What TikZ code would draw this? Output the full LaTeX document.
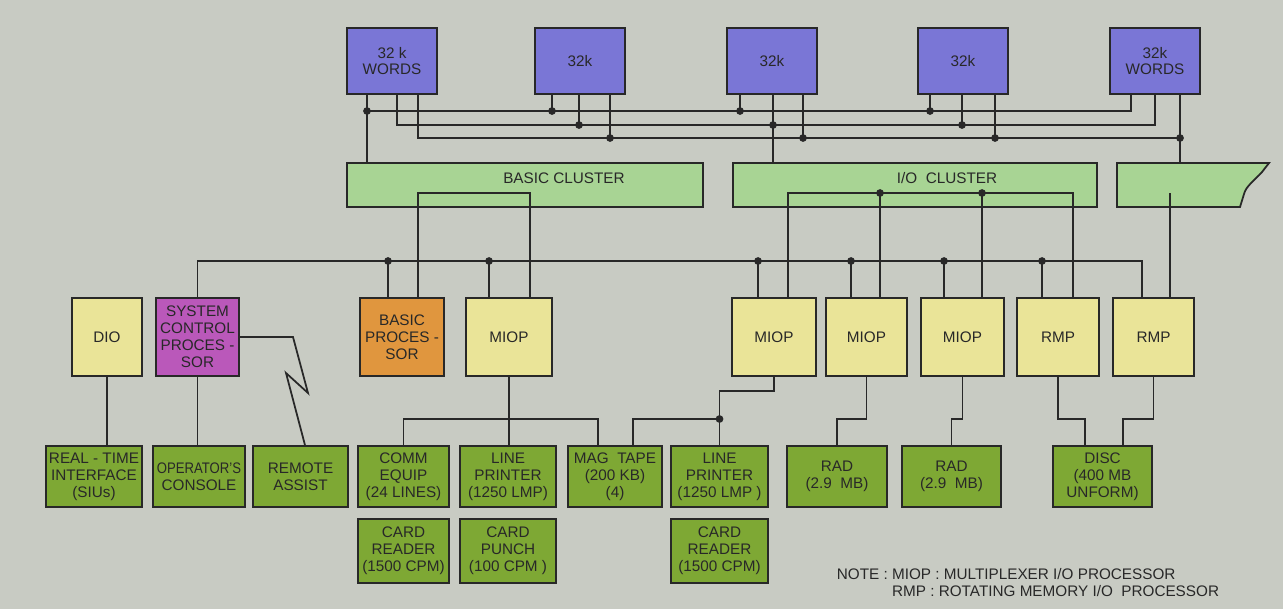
\documentclass[tikz,border=0pt]{standalone}
\usepackage{fontspec}
\setmainfont{Liberation Sans}
\usepackage{graphicx}
\definecolor{bgc}{RGB}{200,203,195}
\definecolor{linec}{RGB}{40,40,40}
\definecolor{memc}{RGB}{122,118,214}
\definecolor{clusc}{RGB}{168,212,148}
\definecolor{procc}{RGB}{234,228,152}
\definecolor{scpc}{RGB}{186,88,186}
\definecolor{bprocc}{RGB}{224,150,62}
\definecolor{devc}{RGB}{126,168,52}
\begin{document}
\begin{tikzpicture}[x=0.02cm, y=-0.02cm, color=linec, line width=1pt,
    font=\fontsize{8.7}{9.6}\selectfont,
    mem/.style={draw, fill=memc, minimum width=1.8cm, minimum height=1.32cm, align=center, inner sep=1pt},
    clus/.style={draw, fill=clusc, minimum height=0.88cm},
    proc/.style={draw, fill=procc, minimum width=1.66cm, minimum height=1.56cm, align=center, inner sep=1pt},
    dev/.style={draw, fill=devc, minimum width=1.9cm, minimum height=1.22cm, align=center, inner sep=1pt}]
        % Draw the page
        \fill[bgc] (0,0) rectangle (1283,609);
        \useasboundingbox (0,0) rectangle (1283,609);
        % Draw the memory banks
        \node[mem] (mem1) at (392,61) {32 k\\WORDS};
        \node[mem] (mem2) at (580,61) {32k};
        \node[mem] (mem3) at (772,61) {32k};
        \node[mem] (mem4) at (963,61) {32k};
        \node[mem] (mem5) at (1155,61) {32k\\WORDS};
        % Draw the clusters
        \node[clus, minimum width=7.12cm] (basic) at (525,185) {};
        \node (basicT) at (564,178) {BASIC CLUSTER};
        \node[clus, minimum width=7.28cm] (io) at (915,185) {};
        \node (ioT) at (947,178) {I/O\ \ CLUSTER};
        \filldraw[fill=clusc] (1117,163) -- (1269,163) -- (1262,172)
            .. controls (1254,181) and (1246,186) .. (1244,194) -- (1240,207) -- (1117,207) -- cycle;
        \coordinate (partN) at (1180,163);
        % Draw the processors
        \node[proc, minimum width=1.4cm] (dio) at (107,337) {DIO};
        \node[proc, fill=scpc] (scp) at (197.5,337) {SYSTEM\\CONTROL\\PROCES -\\SOR};
        \node[proc, fill=bprocc, minimum width=1.68cm] (bproc) at (402,337) {BASIC\\PROCES -\\SOR};
        \node[proc, minimum width=1.72cm] (miop1) at (509,337) {MIOP};
        \node[proc, minimum width=1.68cm] (miop2) at (774,337) {MIOP};
        \node[proc, minimum width=1.62cm] (miop3) at (866.5,337) {MIOP};
        \node[proc] (miop4) at (962.5,337) {MIOP};
        \node[proc, minimum width=1.64cm] (rmp1) at (1058,337) {RMP};
        \node[proc, minimum width=1.62cm] (rmp2) at (1153.5,337) {RMP};
        % Draw the devices
        \node[dev, minimum width=1.92cm] (rt) at (94,476.5) {REAL - TIME\\INTERFACE\\(SIUs)};
        \node[dev, minimum width=1.84cm] (opc) at (199,476.5) {\scalebox{0.86}[1]{OPERATOR'S}\\CONSOLE};
        \node[dev] (remote) at (300.5,476.5) {REMOTE\\ASSIST};
        \node[dev, minimum width=1.82cm] (comm) at (403.5,476.5) {COMM\\EQUIP\\(24 LINES)};
        \node[dev, minimum width=1.92cm] (lp1) at (508,476.5) {LINE\\PRINTER\\(1250 LMP)};
        \node[dev, minimum width=1.88cm] (mag) at (615,476.5) {MAG\ \ TAPE\\(200 KB)\\(4)};
        \node[dev, minimum width=1.94cm] (lp2) at (719.5,476.5) {LINE\\PRINTER\\(1250 LMP )};
        \node[dev, minimum width=2cm] (rad1) at (837,476.5) {RAD\\(2.9\ \ MB)};
        \node[dev, minimum width=1.98cm] (rad2) at (951.5,476.5) {RAD\\(2.9\ \ MB)};
        \node[dev, minimum width=1.98cm] (disc) at (1102.5,476.5) {DISC\\(400 MB\\UNFORM)};
        \node[dev, minimum width=1.82cm, minimum height=1.28cm] (cr1) at (403.5,551) {CARD\\READER\\(1500 CPM)};
        \node[dev, minimum width=1.92cm, minimum height=1.28cm] (cp) at (508,551) {CARD\\PUNCH\\(100 CPM )};
        \node[dev, minimum width=1.94cm, minimum height=1.28cm] (cr2) at (719.5,551) {CARD\\READER\\(1500 CPM)};
        % Draw the memory buses
        \coordinate (busA) at (0,111);
        \coordinate (busB) at (0,125);
        \coordinate (busC) at (0,138);
        \draw (mem1.south -| 367,0) -- (basic.north -| 367,0);
        \draw (367,0 |- busA) -| (mem5.south -| 1131,0);
        \draw (mem1.south -| 397,0) |- (1155,0 |- busB) -- (mem5.south -| 1155,0);
        \draw (mem1.south -| 418,0) |- (1180,0 |- busC);
        \draw (mem5.south -| 1180,0) -- (partN);
        \draw (mem3.south -| 773,0) -- (io.north -| 773,0);
        \foreach \m/\x/\bus in {2/552/busA, 2/579/busB, 2/610/busC, 3/740/busA, 3/803/busC, 4/930/busA, 4/962/busB, 4/995/busC}
            \draw (mem\m.south -| \x,0) -- (\x,0 |- \bus);
        \foreach \x/\bus in {367/busA, 552/busA, 740/busA, 930/busA, 579/busB, 773/busB, 962/busB, 610/busC, 803/busC, 995/busC, 1180/busC}
            \fill (\x,0 |- \bus) circle (2.2pt);
        % Draw the cluster links
        \coordinate (inA) at (0,193);
        \draw (bproc.north -| 418,0) |- (530,0 |- inA) -- (miop1.north -| 530,0);
        \draw (miop2.north -| 788,0) |- (1073,0 |- inA) -- (rmp1.north -| 1073,0);
        \foreach \n/\x in {miop3/880, miop4/982} {
            \draw (\x,0 |- inA) -- (\n.north -| \x,0);
            \fill (\x,0 |- inA) circle (2.2pt);
        }
        \draw (1170,0 |- inA) -- (rmp2.north -| 1170,0);
        % Draw the control bus
        \coordinate (ctl) at (0,261);
        \draw (scp.north) |- (1142,0 |- ctl) -- (rmp2.north -| 1142,0);
        \foreach \n/\x in {bproc/388, miop1/489, miop2/758, miop3/851, miop4/944, rmp1/1042} {
            \draw (\x,0 |- ctl) -- (\n.north -| \x,0);
            \fill (\x,0 |- ctl) circle (2.2pt);
        }
        % Draw the device links
        \coordinate (stepA) at (0,391);
        \coordinate (stepB) at (0,419);
        \draw (dio.south) -- (dio.south |- rt.north);
        \draw (scp.south) -- (scp.south |- opc.north);
        \draw (scp.east) -- (293,0 |- scp.east) -- (308,393) -- (286,373) -- (remote.north -| 305,0);
        \draw (miop1.south) -- (miop1.south |- lp1.north);
        \draw (comm.north) |- (598,0 |- stepB) -- (mag.north -| 598,0);
        \draw (miop2.south) |- (lp2.north |- stepA) -- (lp2.north);
        \draw (mag.north -| 633,0) |- (lp2.north |- stepB);
        \fill (lp2.north |- stepB) circle (2.2pt);
        \draw (miop3.south) |- (rad1.north |- stepB) -- (rad1.north);
        \draw (miop4.south) |- (rad2.north |- stepB) -- (rad2.north);
        \draw (rmp1.south) |- (1085,0 |- stepB) -- (disc.north -| 1085,0);
        \draw (rmp2.south) |- (1123,0 |- stepB) -- (disc.north -| 1123,0);
        % Draw the note
        \node[anchor=west, inner sep=0pt] (note) at (836,585) {\begin{tabular}{@{}l@{ }l@{}}NOTE : & MIOP : MULTIPLEXER I/O PROCESSOR\\ & RMP : ROTATING MEMORY I/O\ \ PROCESSOR\end{tabular}};
    \end{tikzpicture}
\end{document}
